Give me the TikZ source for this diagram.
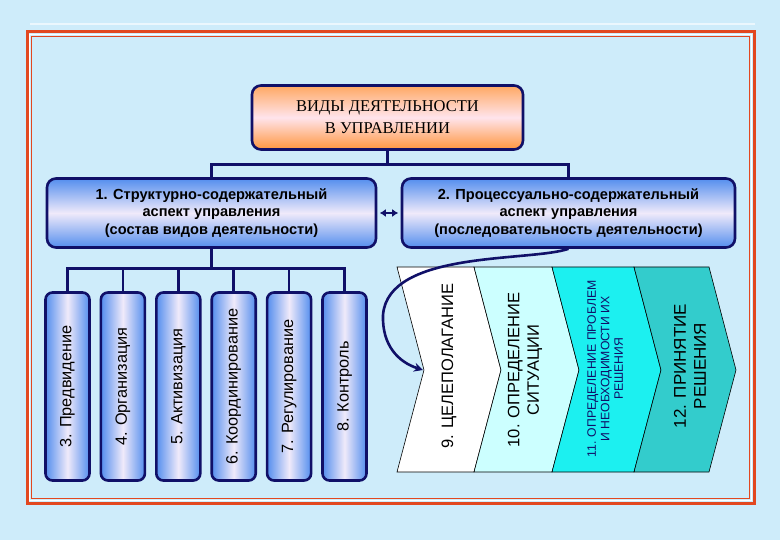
\documentclass[tikz,border=0pt]{standalone}
\usepackage{fontspec}
\setmainfont{Liberation Sans}
\newfontfamily\timesfont{Liberation Serif}
\usetikzlibrary{arrows.meta, positioning, calc}

\definecolor{bgblue}{RGB}{206,236,250}
\definecolor{framered}{RGB}{226,72,32}
\definecolor{navy}{RGB}{16,16,104}
\definecolor{headtop}{RGB}{255,168,98}
\definecolor{headmid}{RGB}{255,228,236}
\definecolor{headbot}{RGB}{255,150,62}
\definecolor{asptop}{RGB}{84,142,238}
\definecolor{aspmid}{RGB}{240,234,250}
\definecolor{chevlight}{RGB}{204,255,255}
\definecolor{chevcyan}{RGB}{28,240,240}
\definecolor{chevteal}{RGB}{51,204,204}

\newcommand{\vlabel}[1]{\rotatebox{90}{#1}}

\begin{document}
\begin{tikzpicture}[x=1pt, y=-1pt,
    link/.style={navy, line width=2.6pt},
    headbox/.style={draw=navy, line width=2.6pt, rounded corners=9pt,
        top color=headtop, bottom color=headbot, middle color=headmid,
        minimum width=271pt, minimum height=64pt, align=center,
        font=\timesfont\fontsize{16.5}{22}\selectfont},
    aspectbox/.style={draw=navy, line width=2.6pt, rounded corners=9pt,
        top color=asptop, bottom color=asptop, middle color=aspmid,
        minimum height=69pt, align=center,
        font=\bfseries\fontsize{14.6}{17.5}\selectfont},
    actbox/.style={draw=navy, line width=2.6pt, rounded corners=7pt,
        left color=asptop, right color=asptop, middle color=aspmid,
        minimum width=44pt, minimum height=188pt, inner sep=0pt,
        font=\fontsize{16.3}{18}\selectfont},
    steptext/.style={rotate=90, align=center, text=black}
]
    % --- Background and frame ---
    \fill[bgblue] (0,0) rectangle (780,540);
    \draw[white, opacity=0.6, line width=1.5pt] (30,24) -- (755,24);
    \draw[framered, line width=3pt] (27,32) rectangle (754,503);
    \draw[white, line width=1pt] (29.5,34.5) rectangle (751.5,500.5);
    \draw[framered, line width=0.7pt] (31,36) rectangle (749,498);

    % --- Top: kinds of activity ---
    \node[headbox] (head) at (387.5,117.5) {ВИДЫ ДЕЯТЕЛЬНОСТИ\\В УПРАВЛЕНИИ};

    % --- Two aspects ---
    \node[aspectbox, minimum width=329pt] (asp1) at (211.5,213)
        {1. Структурно-содержательный\\аспект управления\\(состав видов деятельности)};
    \node[aspectbox, minimum width=333pt] (asp2) at (568.5,213)
        {2. Процессуально-содержательный\\аспект управления\\(последовательность деятельности)};

    \draw[link] (head.south) -- ++(0,14) -| (asp1.north);
    \draw[link] (head.south) -- ++(0,14) -| (asp2.north);
    \draw[navy, line width=2pt, {Latex[length=6pt,width=8pt]}-{Latex[length=6pt,width=8pt]},
        shorten <=2.5pt, shorten >=2.5pt] (asp1.east) -- (asp2.west);

    % --- Left: composition of activities ---
    \foreach \n/\t in {3/Предвидение, 4/Организация, 5/Активизация,
                       6/Координирование, 7/Регулирование, 8/Контроль} {
        \node[actbox] (v\n) at ({67.5+55.4*(\n-3)},386.5) {\vlabel{\n. \t}};
        \draw[link] (asp1.south) -- ++(0,20) -| (v\n.north);
    }

    % --- Right: sequence of activities (chevrons) ---
    \foreach \a/\b/\col in {397/474/white, 474/552/chevlight, 552/634/chevcyan, 634/709/chevteal}
        \draw[fill=\col, line width=0.6pt] (\a,267) -- (\b,267) -- (\b+27,370)
            -- (\b,472) -- (\a,472) -- (\a+27,370) -- cycle;

    \node[steptext, font=\fontsize{16.5}{19}\selectfont] (c9) at (449,366) {9. ЦЕЛЕПОЛАГАНИЕ};
    \node[steptext, font=\fontsize{16.5}{19.5}\selectfont] (c10) at (525,370) {10. ОПРЕДЕЛЕНИЕ\\СИТУАЦИИ};
    \node[steptext, text=navy, font=\fontsize{12.2}{13.5}\selectfont] (c11) at (605,369)
        {11. ОПРЕДЕЛЕНИЕ ПРОБЛЕМ\\И НЕОБХОДИМОСТИ ИХ\\РЕШЕНИЯ};
    \node[steptext, font=\fontsize{17}{20}\selectfont] (c12) at (690,366) {12. ПРИНЯТИЕ\\РЕШЕНИЯ};

    % --- Link from the process aspect to goal setting ---
    \coordinate (goal) at (423,370);
    \draw[link, -{Stealth[length=9pt,width=9pt]}] (asp2.south)
        .. controls (530,262) and (388,250) .. (383,315)
        .. controls (382,345) and (398,362) .. (goal);
\end{tikzpicture}
\end{document}
